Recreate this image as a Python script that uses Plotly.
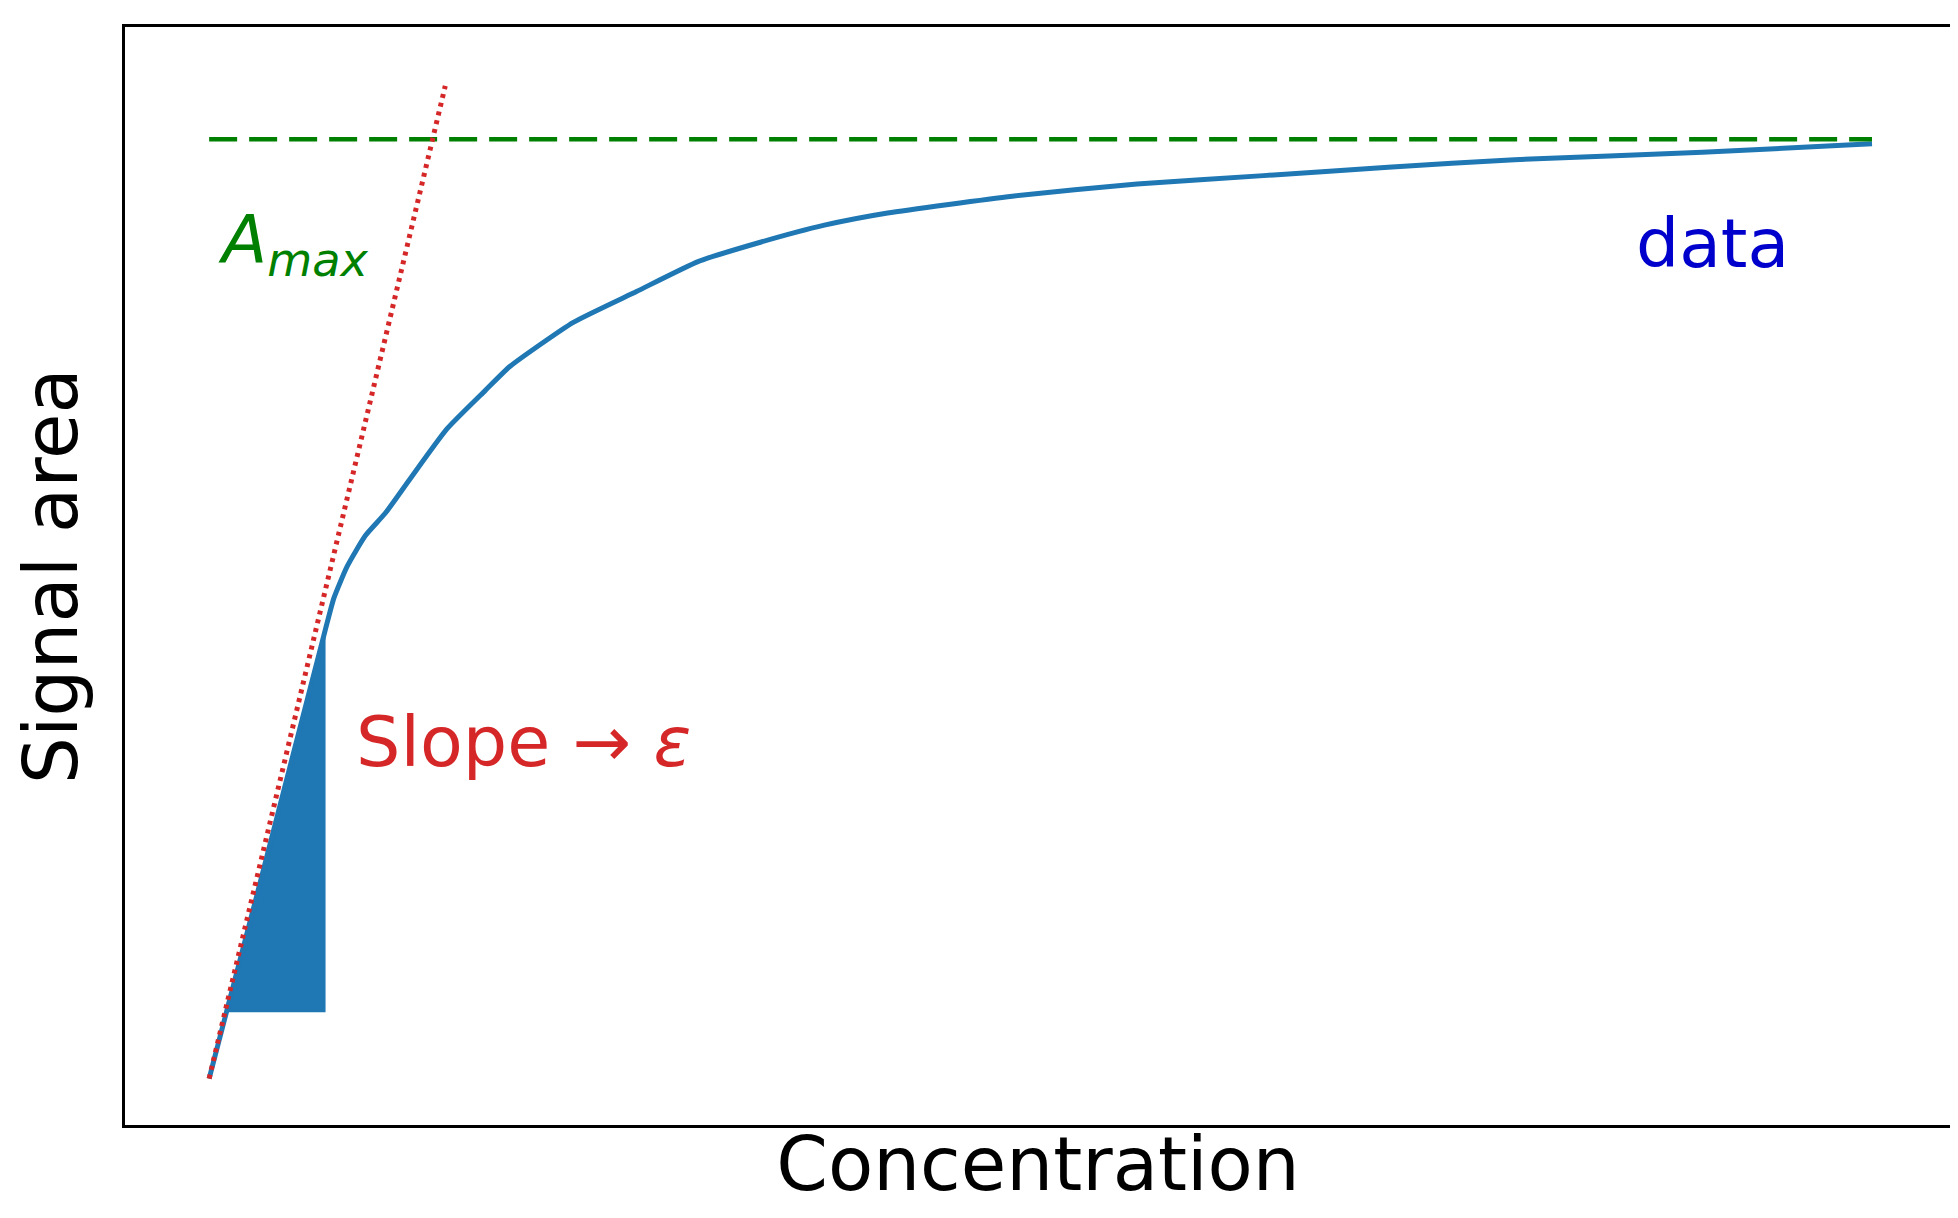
import plotly.graph_objects as go

conc = [0, 3.0, 7.0, 7.5, 8.3, 9.4, 10.6, 12.1, 14.3, 16.6, 18.1, 21.9, 25.7, 29.4, 33.2, 37.0, 40.8, 48.3, 55.8, 63.4, 70.9, 78.5, 89.8, 100]
signal = [0, 20.5, 48.1, 51.4, 54.8, 58.1, 60.5, 64.2, 69.5, 73.6, 76.2, 80.9, 84.2, 87.4, 89.5, 91.3, 92.6, 94.4, 95.7, 96.6, 97.5, 98.3, 99.1, 100]
fill_x = [1.1, 3.0, 7.0, 7.0, 1.1]
fill_y = [8.0, 20.5, 48.1, 7.1, 7.1]
slope_x = [0, 14.2]
slope_y = [0, 106.2]
amax_x = [0, 100]
amax_y = [100.5, 100.5]

fig = go.Figure()
fig.add_trace(go.Scatter(x=fill_x, y=fill_y, fill="toself", mode="lines",
                         line=dict(width=0, color="#1f77b4"), fillcolor="#1f77b4"))
fig.add_trace(go.Scatter(x=conc, y=signal, mode="lines",
                         line=dict(color="#1f77b4", width=5, shape="spline", smoothing=0.5)))
fig.add_trace(go.Scatter(x=amax_x, y=amax_y, mode="lines", line=dict(color="green", width=4.5, dash="28px,12px")))
fig.add_trace(go.Scatter(x=slope_x, y=slope_y, mode="lines", line=dict(color="#d62728", width=5, dash="4px,5px")))

font = "DejaVu Sans"
fig.add_annotation(x=0.4, y=89.3, text="<i>A<sub>max</sub></i>", showarrow=False, xanchor="left",
                   font=dict(family=font, size=66, color="green"))
fig.add_annotation(x=85.7, y=89.3, text="data", showarrow=False, xanchor="left",
                   font=dict(family=font, size=68, color="mediumblue"))
fig.add_annotation(x=8.7, y=36, text="Slope → <i>ε</i>", showarrow=False, xanchor="left",
                   font=dict(family=font, size=70, color="#d62728"))

axis = dict(showgrid=False, zeroline=False, showticklabels=False, ticks="",
            showline=True, linecolor="black", linewidth=2.5, mirror=True)
fig.update_xaxes(range=[-5.06, 104.75], title=dict(text="Concentration", standoff=12,
                 font=dict(family=font, size=74, color="black")), **axis)
fig.update_yaxes(range=[-4.97, 112.5], title=dict(text="Signal area", standoff=22,
                 font=dict(family=font, size=74, color="black")), **axis)
fig.update_layout(width=1958, height=1218, showlegend=False, plot_bgcolor="white", paper_bgcolor="white",
                  margin=dict(l=117, r=15, t=19, b=101))
fig.write_html("out.html")
